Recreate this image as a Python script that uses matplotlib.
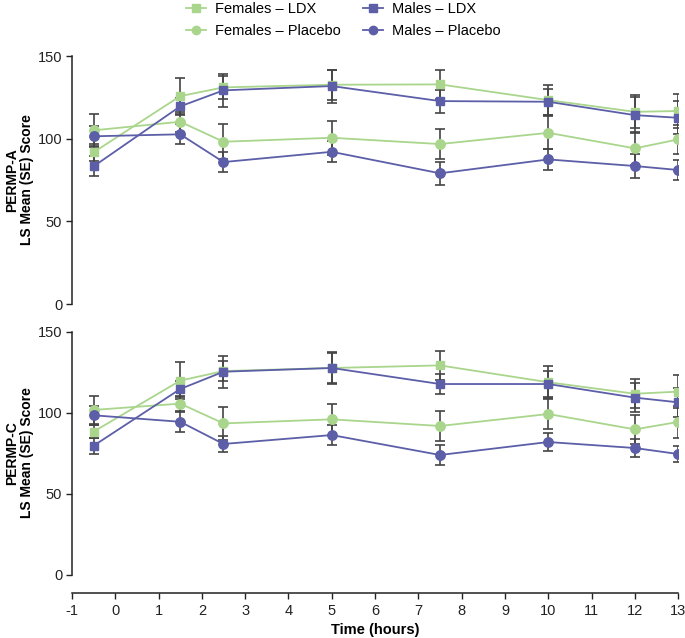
import matplotlib
matplotlib.use("Agg")
import matplotlib.pyplot as plt
from matplotlib.lines import Line2D

plt.rcParams['font.family'] = ['Liberation Sans', 'DejaVu Sans']
fs = 10.5

time = [-0.5, 1.5, 2.5, 5, 7.5, 10, 12, 13]
x_ticks = list(range(-1, 14))
y_ticks = [0, 50, 100, 150]

# PERMP-A
a_fem_ldx = [91.8, 125.8, 131.1, 132.7, 132.9, 123.4, 116.3, 116.8]
a_fem_ldx_se = [5, 11, 7, 9, 9, 9, 10, 10]
a_fem_pla = [105.1, 110.3, 98.2, 100.6, 96.8, 103.6, 94.2, 99.6]
a_fem_pla_se = [10, 6, 10.5, 10.4, 9, 10, 10, 9]
a_mal_ldx = [83.3, 119.6, 129.3, 131.9, 122.8, 122.4, 114.3, 112.7]
a_mal_ldx_se = [6, 5, 10, 10, 7, 8, 11, 10]
a_mal_pla = [101.5, 102.7, 85.9, 92.1, 79.1, 87.5, 83.5, 81.1]
a_mal_pla_se = [6, 6, 6, 6.3, 7, 6.6, 7.5, 6]

# PERMP-C
c_fem_ldx = [88.3, 119.8, 125.7, 127.6, 129.2, 118.8, 111.7, 113.0]
c_fem_ldx_se = [4, 11.5, 6, 9.5, 9, 10, 9, 10]
c_fem_pla = [101.7, 105.6, 93.4, 95.9, 91.8, 99.2, 89.7, 94.3]
c_fem_pla_se = [8.6, 5, 10, 9.5, 9.4, 9.4, 9, 10]
c_mal_ldx = [79.6, 114.6, 125.3, 127.6, 117.7, 117.7, 109.3, 106.4]
c_mal_ldx_se = [5, 5, 10, 10, 6, 8, 9, 9]
c_mal_pla = [98.4, 94.4, 80.7, 86.2, 73.9, 81.9, 78.2, 74.5]
c_mal_pla_se = [6, 6.4, 5, 6.3, 6.4, 5.4, 5.7, 5]

labels = ["Females – LDX", "Females – Placebo", "Males – LDX", "Males – Placebo"]
green = "#A9D68C"
purple = "#5C5EA8"
err_col = "#444444"

fig = plt.figure(figsize=(6.85, 6.38), dpi=100)
ax1 = fig.add_axes([0.105, 0.5235, 0.885, 0.3885])
ax2 = fig.add_axes([0.105, 0.0992, 0.885, 0.3809])

def panel(ax, series):
    styles = [(green, 's'), (green, 'o'), (purple, 's'), (purple, 'o')]
    for (vals, se), (col, mk) in zip(series, styles):
        ax.errorbar(time, vals, yerr=se, fmt='none', ecolor=err_col,
                    elinewidth=1.2, capsize=3.5, capthick=1.2, zorder=2)
        ax.plot(time, vals, color=col, marker=mk, markersize=6.8 if mk == 'o' else 6.3,
                linewidth=1.3, zorder=3)
    ax.set_xlim(-1, 13)
    ax.set_ylim(0, 150)
    ax.set_yticks(y_ticks)
    ax.tick_params(axis='y', direction='out', length=4, width=1, labelsize=fs,
                   color='#222222', labelcolor='#222222', pad=3)
    for s in ['top', 'right']:
        ax.spines[s].set_visible(False)
    ax.spines['left'].set_linewidth(1.1)
    ax.spines['left'].set_color('#222222')

panel(ax1, [(a_fem_ldx, a_fem_ldx_se), (a_fem_pla, a_fem_pla_se),
            (a_mal_ldx, a_mal_ldx_se), (a_mal_pla, a_mal_pla_se)])
panel(ax2, [(c_fem_ldx, c_fem_ldx_se), (c_fem_pla, c_fem_pla_se),
            (c_mal_ldx, c_mal_ldx_se), (c_mal_pla, c_mal_pla_se)])

for ypos, txt in [(0.718, "PERMP-A\nLS Mean (SE) Score"),
                  (0.29, "PERMP-C\nLS Mean (SE) Score")]:
    fig.text(0.029, ypos, txt, rotation=90, ha='center', va='center',
             multialignment='center', fontsize=10, fontweight='bold',
             linespacing=1.1)

ax1.spines['bottom'].set_visible(False)
ax1.set_xticks([])

ax2.spines['bottom'].set_position(('outward', 13.5))
ax2.spines['bottom'].set_linewidth(1.1)
ax2.spines['bottom'].set_color('#222222')
ax2.set_xticks(x_ticks)
ax2.set_xticklabels([str(t) for t in x_ticks])
ax2.tick_params(axis='x', direction='out', length=4, width=1, labelsize=fs,
                color='#222222', labelcolor='#222222')
ax2.set_xlabel("Time (hours)", fontsize=fs, fontweight='bold', labelpad=4)

handles = [
    Line2D([], [], color=green, marker='s', markersize=6, linewidth=1.3),
    Line2D([], [], color=green, marker='o', markersize=6, linewidth=1.3),
    Line2D([], [], color=purple, marker='s', markersize=6, linewidth=1.3),
    Line2D([], [], color=purple, marker='o', markersize=6, linewidth=1.3),
]
fig.legend(handles, labels, ncol=2, loc='upper left', bbox_to_anchor=(0.252, 1.018),
           frameon=False, fontsize=fs, handlelength=1.4, handletextpad=0.6,
           columnspacing=1.5, labelspacing=0.6)

fig.savefig("out.png", dpi=100)
